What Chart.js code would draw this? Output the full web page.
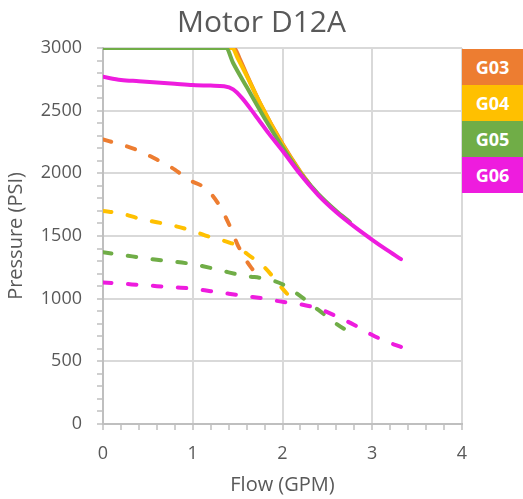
<!DOCTYPE html>
<html>
<head>
<meta charset="utf-8">
<script src="https://cdn.jsdelivr.net/npm/chart.js@4.4.1/dist/chart.umd.min.js"></script>
<style>
  html, body { margin: 0; padding: 0; background: #ffffff; }
  #wrap { position: relative; width: 523px; height: 499px; }
  #c { position: absolute; left: 0; top: 0; }
  #legend { position: absolute; left: 462px; top: 49px; width: 61px; }
  .item { height: 36px; line-height: 36px; text-align: center; color: #ffffff;
          font-family: 'Open Sans', sans-serif; font-weight: 700; font-size: 18px; }
</style>
</head>
<body>
<div id="wrap">
  <canvas id="c" width="523" height="499"></canvas>
  <div id="legend"></div>
</div>
<script>
// ---- data ----
const seriesNames = ['G03', 'G04', 'G05', 'G06'];
const seriesColors = ['#ED7D31', '#FFC000', '#70AD47', '#EE1CDE'];

// solid curves
const flowG03Solid = [0, 1.46, 1.52, 1.6, 1.75, 2.0, 2.2, 2.3];
const presG03Solid = [3000, 3000, 2920, 2790, 2560, 2235, 2012, 1915];
const flowG04Solid = [0, 1.44, 1.5, 1.6, 1.75, 2.0, 2.2, 2.3];
const presG04Solid = [3000, 3000, 2920, 2780, 2560, 2230, 2008, 1912];
const flowG05Solid = [0, 1.37, 1.45, 1.6, 1.8, 2.0, 2.2, 2.4, 2.6, 2.75];
const presG05Solid = [3000, 3000, 2880, 2690, 2440, 2210, 2000, 1835, 1700, 1612];
const flowG06Solid = [0, 0.2, 0.4, 0.6, 0.8, 1.0, 1.2, 1.35, 1.45, 1.55, 1.7, 1.85, 2.0, 2.2, 2.4, 2.6, 2.8, 3.0, 3.15, 3.32];
const presG06Solid = [2770, 2745, 2735, 2725, 2715, 2705, 2700, 2695, 2670, 2600, 2460, 2315, 2180, 1990, 1825, 1690, 1575, 1470, 1395, 1315];

// dashed curves
const flowG03Dash = [0, 0.2, 0.4, 0.6, 0.8, 0.95, 1.1, 1.2, 1.3, 1.4, 1.5, 1.6, 1.68];
const presG03Dash = [2270, 2230, 2180, 2110, 2030, 1950, 1900, 1840, 1740, 1600, 1430, 1300, 1220];
const flowG04Dash = [0, 0.2, 0.4, 0.6, 0.8, 1.0, 1.2, 1.4, 1.5, 1.6, 1.8, 2.0, 2.1];
const presG04Dash = [1700, 1680, 1640, 1610, 1580, 1540, 1490, 1450, 1420, 1360, 1250, 1080, 1000];
const flowG05Dash = [0, 0.2, 0.4, 0.6, 0.8, 1.0, 1.2, 1.4, 1.6, 1.8, 2.0, 2.2, 2.4, 2.6, 2.75];
const presG05Dash = [1370, 1350, 1330, 1310, 1295, 1275, 1245, 1210, 1180, 1160, 1115, 1020, 910, 800, 730];
const flowG06Dash = [0, 0.2, 0.4, 0.6, 0.8, 1.0, 1.2, 1.4, 1.6, 1.8, 2.0, 2.2, 2.4, 2.6, 2.8, 3.0, 3.15, 3.32];
const presG06Dash = [1130, 1120, 1110, 1100, 1090, 1080, 1060, 1040, 1020, 1000, 975, 955, 920, 860, 790, 710, 660, 615];

// tick labels
const xTickLabels = [0, 1, 2, 3, 4];
const yTickLabels = [0, 500, 1000, 1500, 2000, 2500, 3000];

const solidFlows = [flowG03Solid, flowG04Solid, flowG05Solid, flowG06Solid];
const solidPres = [presG03Solid, presG04Solid, presG05Solid, presG06Solid];
const dashFlows = [flowG03Dash, flowG04Dash, flowG05Dash, flowG06Dash];
const dashPres = [presG03Dash, presG04Dash, presG05Dash, presG06Dash];

const pts = (xs, ys) => xs.map((x, i) => ({ x: x, y: ys[i] }));

const datasets = [];
seriesNames.forEach((name, i) => {
  datasets.push({
    label: name + ' max',
    data: pts(solidFlows[i], solidPres[i]),
    borderColor: seriesColors[i],
    borderWidth: 4,
    pointRadius: 0,
    cubicInterpolationMode: 'monotone',
    borderCapStyle: 'round',
    borderJoinStyle: 'round',
    order: 4 - i
  });
  datasets.push({
    label: name + ' dashed',
    data: pts(dashFlows[i], dashPres[i]),
    borderColor: seriesColors[i],
    borderWidth: 4,
    borderDash: [8.5, 16.5],
    borderCapStyle: 'round',
    pointRadius: 0,
    cubicInterpolationMode: 'monotone',
    order: 8 - i
  });
});

const TXT = '#595959';
const GRID = '#d9d9d9';
const AXIS = '#bfbfbf';
const isWhole = v => Math.abs(v - Math.round(v)) < 1e-6;

new Chart(document.getElementById('c'), {
  type: 'line',
  data: { datasets: datasets },
  options: {
    responsive: false,
    animation: false,
    devicePixelRatio: 1,
    layout: { padding: 0 },
    plugins: {
      legend: { display: false },
      tooltip: { enabled: false },
      title: {
        display: true,
        text: 'Motor D12A',
        color: TXT,
        font: { family: 'Open Sans', size: 30, weight: 'normal' },
        padding: { top: 5, bottom: 7 }
      }
    },
    scales: {
      x: {
        type: 'linear',
        min: 0, max: 4,
        ticks: {
          stepSize: 0.2,
          autoSkip: false,
          maxRotation: 0,
          color: TXT,
          padding: 13,
          font: { family: 'Open Sans', size: 18 },
          callback: v => (isWhole(v) && xTickLabels.includes(Math.round(v))) ? String(Math.round(v)) : ''
        },
        grid: {
          color: c => (c.tick && isWhole(c.tick.value)) ? GRID : 'rgba(0,0,0,0)',
          lineWidth: 2,
          tickColor: AXIS,
          tickLength: 6,
          tickWidth: 1.5
        },
        border: { color: AXIS, width: 2 },
        title: {
          display: true,
          text: 'Flow (GPM)',
          color: TXT,
          font: { family: 'Open Sans', size: 20 },
          padding: { top: 0, bottom: 2 }
        },
        afterFit: s => { s.height = 75; }
      },
      y: {
        type: 'linear',
        min: 0, max: 3000,
        ticks: {
          stepSize: 100,
          autoSkip: false,
          color: TXT,
          padding: 15,
          font: { family: 'Open Sans', size: 18 },
          callback: v => yTickLabels.includes(v) ? String(v) : ''
        },
        grid: {
          color: c => (c.tick && c.tick.value % 500 === 0) ? GRID : 'rgba(0,0,0,0)',
          lineWidth: 2,
          tickColor: AXIS,
          tickLength: 6,
          tickWidth: 1.5
        },
        border: { color: AXIS, width: 2 },
        title: {
          display: true,
          text: 'Pressure (PSI)',
          color: TXT,
          font: { family: 'Open Sans', size: 20 },
          padding: { top: 4, bottom: 0 }
        },
        afterFit: s => { s.width = 103; }
      },
      legendSpace: {
        type: 'linear',
        position: 'right',
        display: true,
        ticks: { display: false },
        grid: { display: false },
        border: { display: false },
        afterFit: s => { s.width = 61; }
      }
    }
  }
});

// HTML legend (colored tiles with white labels)
const legend = document.getElementById('legend');
seriesNames.forEach((name, i) => {
  const d = document.createElement('div');
  d.className = 'item';
  d.style.background = seriesColors[i];
  d.textContent = name;
  legend.appendChild(d);
});
</script>
</body>
</html>
